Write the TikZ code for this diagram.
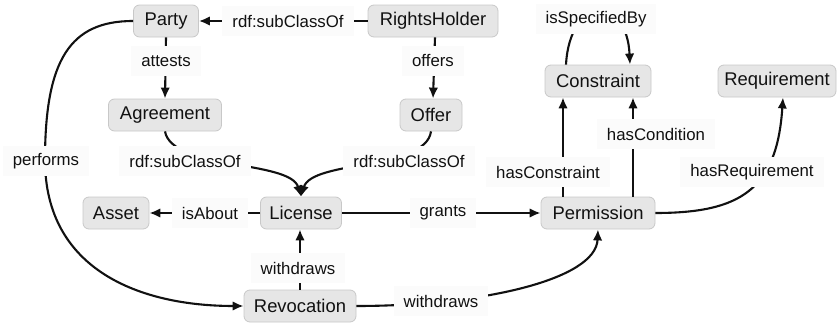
\documentclass[tikz,border=0pt]{standalone}
\usepackage{fontspec}
\setmainfont{Liberation Sans}
\usetikzlibrary{arrows.meta}
\definecolor{boxfill}{HTML}{E6E6E6}
\definecolor{boxline}{HTML}{C8C8C8}
\definecolor{tagfill}{HTML}{FBFBFB}
\definecolor{ink}{HTML}{111111}
\tikzset{
  cls/.style={font=\fontsize{18.4}{22}\selectfont, text=ink,
              draw=boxline, fill=boxfill, rounded corners=6pt,
              minimum height=32pt, inner sep=0pt, line width=0.8pt},
  rel/.style={font=\fontsize{16.8}{20}\selectfont, text=ink,
              fill=tagfill, inner xsep=10pt, inner ysep=0pt, minimum height=30pt},
  link/.style={draw=ink, line width=2.1pt, -{Latex[length=11pt,width=9.5pt]}}
}
\begin{document}
\begin{tikzpicture}[x=1pt, y=-1pt]
\useasboundingbox (0,0) rectangle (839,324);

% classes
\node[cls, minimum width=65pt]  (party)  at (166,21)  {Party};
\node[cls, minimum width=130pt] (holder) at (433,21)  {RightsHolder};
\node[cls, minimum width=113pt] (agree)  at (165,115) {Agreement};
\node[cls, minimum width=62pt]  (offer)  at (431,115) {Offer};
\node[cls, minimum width=106pt] (constr) at (598,81)  {Constraint};
\node[cls, minimum width=118pt] (req)    at (777,81)  {Requirement};
\node[cls, minimum width=66pt]  (asset)  at (116,213) {Asset};
\node[cls, minimum width=81pt]  (lic)    at (301,213) {License};
\node[cls, minimum width=114pt] (perm)   at (598,213) {Permission};
\node[cls, minimum width=112pt] (revoc)  at (300,306) {Revocation};

% relations
\draw[link] (holder.west) -- (party.east);
\draw[link] (party.south) -- (agree.north);
\draw[link] ([xshift=2pt]holder.south) -- ([xshift=2pt]offer.north);
\draw[link] (agree.south) .. controls (172,170) and (290,160) .. (lic.north);
\draw[link] (offer.south) .. controls (426,170) and (312,160) .. (lic.north);
\draw[link] (party.west) .. controls (70,21) and (45,60) .. (45,160)
            .. controls (45,270) and (140,306) .. (revoc.west);
\draw[link] ([xshift=-32pt]constr.north) .. controls (570,-5) and (627,-5) .. ([xshift=32pt]constr.north);
\draw[link] ([xshift=-35pt]perm.north) -- ([xshift=-35pt]constr.south);
\draw[link] ([xshift=35pt]perm.north) -- ([xshift=35pt]constr.south);
\draw[link] (perm.east) .. controls (740,213) and (777,190) .. ([xshift=6pt]req.south);
\draw[link] (lic.west) -- (asset.east);
\draw[link] (lic.east) -- (perm.west);
\draw[link] (revoc.north) -- (revoc.north |- lic.south);
\draw[link] (revoc.east) .. controls (480,306) and (596,280) .. (perm.south);

% relation labels
\node[rel] (t1)  at (288,21)  {rdf:subClassOf};
\node[rel] (t2)  at (166,61)  {attests};
\node[rel] (t3)  at (433,61)  {offers};
\node[rel] (t4)  at (185,161) {rdf:subClassOf};
\node[rel] (t5)  at (409,161) {rdf:subClassOf};
\node[rel] (t6)  at (46,161)  {performs};
\node[rel] (t7)  at (596,19)  {isSpecifiedBy};
\node[rel] (t8)  at (656,134) {hasCondition};
\node[rel] (t9)  at (548,172) {hasConstraint};
\node[rel] (t10) at (752,172) {hasRequirement};
\node[rel] (t11) at (210,213) {isAbout};
\node[rel] (t12) at (443,213) {grants};
\node[rel] (t13) at (298,268) {withdraws};
\node[rel] (t14) at (441,301) {withdraws};
\end{tikzpicture}
\end{document}
